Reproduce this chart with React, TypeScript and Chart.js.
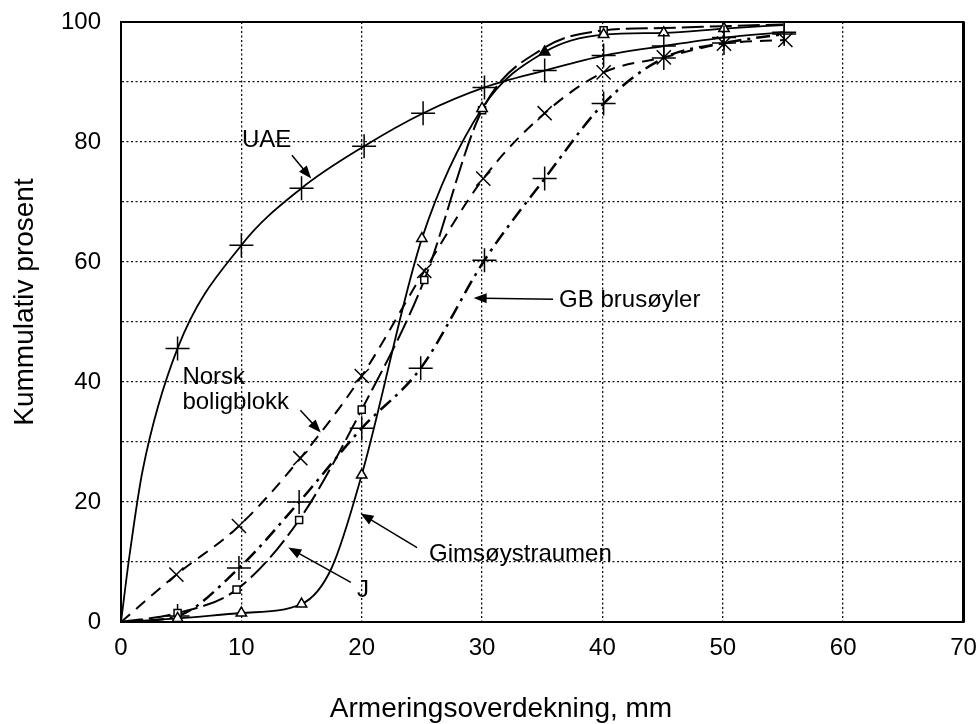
import React, { useEffect, useRef } from "react";
import { Chart, registerables } from "chart.js";

Chart.register(...registerables);

// ---------- data ----------
const xTickValues = [0, 10, 20, 30, 40, 50, 60, 70];
const yTickValues = [0, 20, 40, 60, 80, 100];

const uaeX = [0, 0.7, 1.8, 4.7, 10, 15, 20.2, 25.1, 30.2, 35.2, 40.1, 45.1, 50.1, 55.1];
const uaeY = [0, 11, 25.3, 45.6, 62.8, 72.3, 79.3, 84.8, 89.1, 91.9, 94.4, 96, 97.4, 98.3];
const uaeMarked = [0, 0, 0, 1, 1, 1, 1, 1, 1, 1, 1, 1, 1, 1];

const norskX = [0, 4.6, 9.8, 14.9, 20, 25.2, 30.1, 35.2, 40.1, 45.1, 50.1, 55.2];
const norskY = [0, 7.9, 16, 27.3, 41, 58.5, 73.9, 84.8, 91.6, 94.1, 96.4, 97];
const norskMarked = [0, 1, 1, 1, 1, 1, 1, 1, 1, 1, 1, 1];

const gbX = [0, 4.7, 9.8, 14.8, 20, 24.9, 30.2, 35.2, 40.1, 45.1, 50.1, 55.1];
const gbY = [0, 1, 9, 20, 32.3, 42.3, 60.3, 73.9, 86.4, 94, 96.5, 98];
const gbMarked = [0, 1, 1, 1, 1, 1, 1, 1, 1, 1, 1, 1];

const gimX = [0, 4.7, 10, 15, 17.5, 20, 25, 30, 35.2, 40.1, 45.1, 50.1, 55];
const gimY = [0, 0.6, 1.5, 3, 9, 24.5, 63.9, 85.6, 95, 97.9, 98.2, 98.9, 99.5];
const gimMarked = [0, 1, 1, 1, 0, 1, 1, 1, 2, 1, 1, 1, 0]; // 2 = filled marker

const jX = [0, 4.7, 9.6, 14.8, 20, 25.2, 30, 35, 40.1, 45, 50, 55];
const jY = [0, 1.5, 5.4, 17, 35.4, 57, 85.3, 95.5, 98.6, 99, 99.3, 99.6];
const jMarked = [0, 1, 1, 1, 1, 1, 1, 0, 1, 0, 0, 0];

const xTitle = "Armeringsoverdekning, mm";
const yTitle = "Kummulativ prosent";

const FONT = '"Liberation Sans", Arial, Helvetica, sans-serif';

function pts(xs: number[], ys: number[]) {
  return xs.map((x, i) => ({ x, y: ys[i] }));
}

function series(
  label: string,
  xs: number[],
  ys: number[],
  marked: number[],
  style: string,
  radius: number,
  dash: number[],
  width: number
) {
  return {
    label,
    data: pts(xs, ys),
    borderColor: "#000",
    borderWidth: width,
    borderDash: dash,
    fill: false,
    cubicInterpolationMode: "monotone" as const,
    pointStyle: style,
    pointRadius: (c: any) => (marked[c.dataIndex] ? radius : 0),
    pointBorderColor: "#000",
    pointBorderWidth: 1.5,
    pointBackgroundColor: (c: any) => (marked[c.dataIndex] === 2 ? "#000" : "#fff"),
  };
}

function arrow(ctx: CanvasRenderingContext2D, x1: number, y1: number, x2: number, y2: number, head = 13, hw = 5) {
  const a = Math.atan2(y2 - y1, x2 - x1);
  ctx.beginPath();
  ctx.moveTo(x1, y1);
  ctx.lineTo(x2 - Math.cos(a) * head * 0.8, y2 - Math.sin(a) * head * 0.8);
  ctx.stroke();
  ctx.beginPath();
  ctx.moveTo(x2, y2);
  ctx.lineTo(x2 - Math.cos(a) * head + Math.sin(a) * hw, y2 - Math.sin(a) * head - Math.cos(a) * hw);
  ctx.lineTo(x2 - Math.cos(a) * head - Math.sin(a) * hw, y2 - Math.sin(a) * head + Math.cos(a) * hw);
  ctx.closePath();
  ctx.fill();
}

const decorPlugin = {
  id: "decor",
  afterDatasetsDraw(chart: any) {
    const { ctx, chartArea, scales } = chart;
    const X = (v: number) => scales.x.getPixelForValue(v);
    const Y = (v: number) => scales.y.getPixelForValue(v);
    ctx.save();
    // frame
    ctx.strokeStyle = "#000";
    ctx.lineWidth = 2;
    ctx.setLineDash([]);
    ctx.strokeRect(chartArea.left, chartArea.top, chartArea.right - chartArea.left, chartArea.bottom - chartArea.top);
    ctx.lineWidth = 3;
    ctx.beginPath();
    ctx.moveTo(chartArea.right, chartArea.top);
    ctx.lineTo(chartArea.right, chartArea.bottom);
    ctx.stroke();

    // annotations
    ctx.fillStyle = "#000";
    ctx.strokeStyle = "#000";
    ctx.lineWidth = 1.5;
    ctx.font = `24px ${FONT}`;
    ctx.textBaseline = "middle";
    ctx.textAlign = "center";
    ctx.fillText("UAE", X(12.1), Y(80.3));
    arrow(ctx, X(14.2), Y(77.8), X(15.8), Y(73.9));

    ctx.textAlign = "left";
    ctx.fillText("Norsk", X(5.1), Y(40.8));
    ctx.fillText("boligblokk", X(5.1), Y(36.6));
    arrow(ctx, X(14.9), Y(35.3), X(16.6), Y(31.6));

    ctx.fillText("GB brusøyler", X(36.4), Y(53.6));
    arrow(ctx, X(35.9), Y(53.8), X(29.3), Y(54.0));

    ctx.fillText("Gimsøystraumen", X(25.6), Y(11.3));
    arrow(ctx, X(24.6), Y(12.4), X(19.9), Y(18.1));

    ctx.fillText("J", X(19.6), Y(5.3));
    arrow(ctx, X(19.1), Y(6.6), X(13.9), Y(12.4));

    ctx.restore();
  },
  afterDraw(chart: any) {
    const { ctx } = chart;
    ctx.save();
    ctx.fillStyle = "#000";
    ctx.font = `28px ${FONT}`;
    ctx.textAlign = "center";
    ctx.textBaseline = "alphabetic";
    ctx.fillText(xTitle, 501, 717);
    ctx.translate(33, 302);
    ctx.rotate(-Math.PI / 2);
    ctx.fillText(yTitle, 0, 0);
    ctx.restore();
  },
};

export default function App() {
  const ref = useRef<HTMLCanvasElement>(null);
  useEffect(() => {
    document.body.style.margin = "0";
    const canvas = ref.current!;
    const chart = new Chart(canvas, {
      type: "line",
      data: {
        datasets: [
          series("UAE", uaeX, uaeY, uaeMarked, "cross", 12, [], 1.8),
          series("Gimsøystraumen", gimX, gimY, gimMarked, "triangle", 6, [], 1.8),
          series("J", jX, jY, jMarked, "rect", 5, [22, 6], 2),
          series("Norsk boligblokk", norskX, norskY, norskMarked, "crossRot", 10, [12, 8], 2),
          series("GB brusøyler", gbX, gbY, gbMarked, "cross", 12, [14, 6, 3, 6], 2.5),
        ] as any,
      },
      options: {
        animation: false,
        responsive: false,
        devicePixelRatio: 1,
        events: [],
        parsing: false as any,
        layout: { padding: { left: 0, top: 22, right: 7, bottom: 0 } },
        plugins: { legend: { display: false }, tooltip: { enabled: false } },
        scales: {
          x: {
            type: "linear",
            min: 0,
            max: 70,
            afterFit: (s: any) => {
              s.height = 102;
              s.paddingLeft = 0;
              s.paddingRight = 0;
            },
            afterBuildTicks: (s: any) => {
              s.ticks = xTickValues.map((v) => ({ value: v }));
            },
            ticks: { color: "#000", font: { family: FONT, size: 24 }, padding: 12, maxRotation: 0 },
            grid: { color: "#111", lineWidth: 1.3, drawTicks: false },
            border: { display: true, color: "#000", width: 2, dash: [2, 2.5] },
          },
          y: {
            type: "linear",
            min: 0,
            max: 100,
            afterFit: (s: any) => {
              s.width = 121;
              s.paddingTop = 0;
              s.paddingBottom = 0;
            },
            ticks: {
              stepSize: 10,
              color: "#000",
              font: { family: FONT, size: 24 },
              padding: 20,
              callback: (v: any) => (yTickValues.includes(Number(v)) ? String(v) : ""),
            },
            grid: { color: "#111", lineWidth: 1.3, drawTicks: false },
            border: { display: true, color: "#000", width: 2, dash: [2, 2.5] },
          },
        },
      },
      plugins: [decorPlugin],
    });
    return () => chart.destroy();
  }, []);
  return (
    <div style={{ width: 977, height: 724, background: "#fff" }}>
      <canvas ref={ref} width={977} height={724} style={{ display: "block", width: 977, height: 724 }} />
    </div>
  );
}
